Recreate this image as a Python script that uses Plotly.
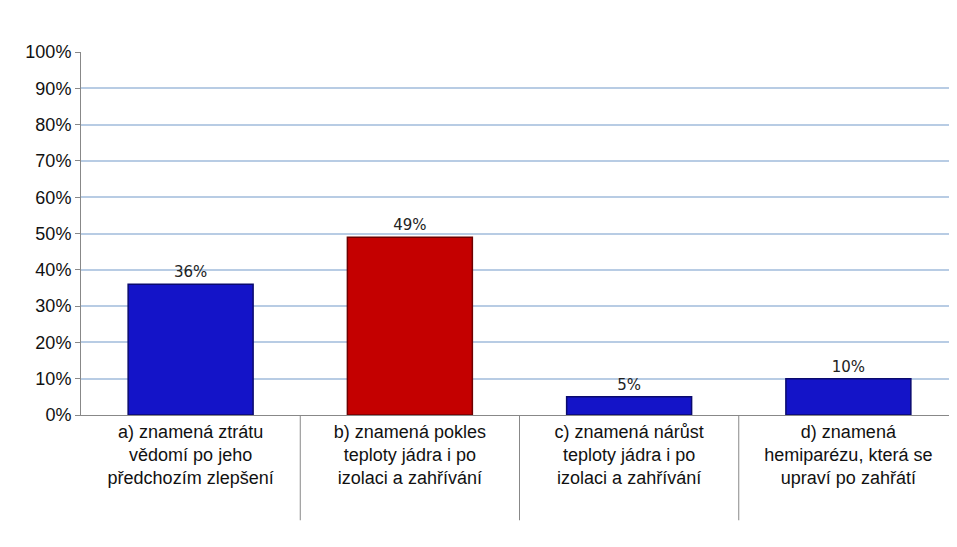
import plotly.graph_objects as go

categories = ["a) znamená ztrátu<br>vědomí po jeho<br>předchozím zlepšení",
              "b) znamená pokles<br>teploty jádra i po<br>izolaci a zahřívání",
              "c) znamená nárůst<br>teploty jádra i po<br>izolaci a zahřívání",
              "d) znamená<br>hemiparézu, která se<br>upraví po zahřátí"]
values = [0.36, 0.49, 0.05, 0.10]
labels = ["36%", "49%", "5%", "10%"]
colors = ["#1414c8", "#c40000", "#1414c8", "#1414c8"]
line_colors = ["#0a0a6e", "#6e0000", "#0a0a6e", "#0a0a6e"]

fig = go.Figure(go.Bar(
    x=list(range(4)), y=values, text=labels, textposition="outside",
    textfont=dict(size=15, color="#222", family="DejaVu Sans"),
    marker=dict(color=colors, line=dict(color=line_colors, width=1.5)),
    width=0.57, cliponaxis=False))

shapes = [dict(type="line", xref="x", yref="paper", x0=b, x1=b, y0=0, y1=-0.29,
               line=dict(color="#888", width=1)) for b in [0.5, 1.5, 2.5]]

fig.update_layout(
    width=957, height=547, paper_bgcolor="white", plot_bgcolor="white",
    margin=dict(l=73, r=7, t=44, b=140), showlegend=False, shapes=shapes,
    font=dict(family="Liberation Sans, DejaVu Sans", size=18, color="#111"),
    xaxis=dict(tickvals=list(range(4)), ticktext=categories, range=[-0.5, 3.5],
               showline=True, linecolor="#888", tickfont=dict(size=18)),
    yaxis=dict(range=[0, 1], tickformat=".0%", dtick=0.1, showline=True, linecolor="#888",
               gridcolor="#b8cce4", gridwidth=1.5, ticks="outside", ticklen=5, tickcolor="#888",
               tickfont=dict(size=18)),
)
fig.write_html("out.html")
